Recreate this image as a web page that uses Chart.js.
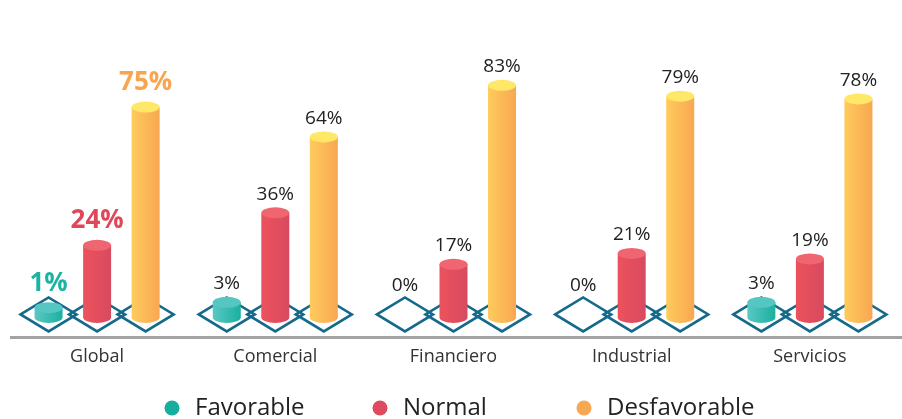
<!DOCTYPE html>
<html>
<head>
<meta charset="utf-8">
<script src="https://cdn.jsdelivr.net/npm/chart.js@4/dist/chart.umd.min.js"></script>
<style>
html,body{margin:0;padding:0;background:#fff;}
#wrap{width:902px;height:419px;position:relative;}
</style>
</head>
<body>
<div id="wrap"><canvas id="c" width="902" height="419"></canvas></div>
<script>
const categories = ['Global', 'Comercial', 'Financiero', 'Industrial', 'Servicios'];
const favorable = [1, 3, 0, 0, 3];
const normal = [24, 36, 17, 21, 19];
const desfavorable = [75, 64, 83, 79, 78];
const seriesNames = ['Favorable', 'Normal', 'Desfavorable'];

const palette = [
  {top:'#56C6C3', l:'#5AC8C4', r:'#1AB09F', legend:'#17AE9E', hl:'#1DB3A2'},
  {top:'#F06670', l:'#EC525C', r:'#D84A60', legend:'#DC4B5E', hl:'#E0485A'},
  {top:'#FFE768', l:'#FFCB5C', r:'#F8A752', legend:'#F9A852', hl:'#F9A54F'}
];
const FONT = '"Open Sans", "Noto Sans", sans-serif';
const STUB = 7; // visual base height of each cylinder

const cylPlugin = {
  id: 'cyl',
  beforeDatasetsDraw(chart) {
    const ctx = chart.ctx;
    ctx.save();
    ctx.strokeStyle = '#15698B';
    ctx.lineWidth = 2.6;
    ctx.lineJoin = 'miter';
    chart.data.datasets.forEach((ds, di) => {
      chart.getDatasetMeta(di).data.forEach(el => {
        const cx = el.x, cy = el.base - 3;
        ctx.beginPath();
        ctx.moveTo(cx - 28, cy);
        ctx.lineTo(cx, cy - 17);
        ctx.lineTo(cx + 28, cy);
        ctx.lineTo(cx, cy + 17);
        ctx.closePath();
        ctx.stroke();
      });
    });
    const a = chart.chartArea;
    ctx.strokeStyle = '#A3A3A3';
    ctx.lineWidth = 3;
    ctx.beginPath();
    ctx.moveTo(10, a.bottom + 20);
    ctx.lineTo(902, a.bottom + 20);
    ctx.stroke();
    ctx.restore();
  },
  afterDatasetsDraw(chart) {
    const ctx = chart.ctx;
    ctx.save();
    chart.data.datasets.forEach((ds, di) => {
      const p = palette[di];
      chart.getDatasetMeta(di).data.forEach((el, i) => {
        const v = ds.data[i];
        const cx = el.x, base = el.base, top = el.y - STUB;
        const rx = 14, ry = 5.5;
        let labelY;
        if (v > 0) {
          const g = ctx.createLinearGradient(cx - rx, 0, cx + rx, 0);
          g.addColorStop(0, p.l);
          g.addColorStop(1, p.r);
          ctx.fillStyle = g;
          ctx.beginPath();
          ctx.moveTo(cx - rx, top);
          ctx.lineTo(cx - rx, base);
          ctx.ellipse(cx, base, rx, ry, 0, Math.PI, 0, true);
          ctx.lineTo(cx + rx, top);
          ctx.closePath();
          ctx.fill();
          ctx.fillStyle = p.top;
          ctx.beginPath();
          ctx.ellipse(cx, top, rx, ry, 0, 0, Math.PI * 2);
          ctx.fill();
          labelY = top - ry - 13;
        } else {
          labelY = base - 32;
        }
        const highlight = i === 0;
        ctx.font = highlight ? 'bold 26px ' + FONT : '19px ' + FONT;
        ctx.fillStyle = highlight ? p.hl : '#222';
        ctx.textAlign = 'center';
        ctx.textBaseline = 'middle';
        ctx.fillText(v + '%', cx, highlight ? labelY - 6 : labelY);
      });
    });
    const lx = [172, 380, 584];
    ctx.textAlign = 'left';
    ctx.textBaseline = 'middle';
    ctx.font = '24px ' + FONT;
    chart.data.datasets.forEach((ds, di) => {
      ctx.fillStyle = palette[di].legend;
      ctx.beginPath();
      ctx.arc(lx[di], 408, 7.5, 0, Math.PI * 2);
      ctx.fill();
      ctx.fillStyle = '#222';
      ctx.fillText(ds.label, lx[di] + 23, 408);
    });
    ctx.restore();
  }
};

new Chart(document.getElementById('c'), {
  type: 'bar',
  data: {
    labels: categories,
    datasets: [
      {label: seriesNames[0], data: favorable},
      {label: seriesNames[1], data: normal},
      {label: seriesNames[2], data: desfavorable}
    ].map(d => Object.assign(d, {backgroundColor: 'rgba(0,0,0,0)', borderWidth: 0, categoryPercentage: 0.817, barPercentage: 0.577}))
  },
  options: {
    responsive: false,
    animation: false,
    devicePixelRatio: 1,
    layout: {padding: {top: 30, left: 8, right: 3, bottom: 22}},
    plugins: {legend: {display: false}, tooltip: {enabled: false}},
    scales: {
      x: {
        grid: {display: false, drawTicks: false},
        border: {display: false},
        ticks: {padding: 29, color: '#333', font: {family: FONT, size: 18}}
      },
      y: {display: false, min: 0, max: 106}
    }
  },
  plugins: [cylPlugin]
});
</script>
</body>
</html>
